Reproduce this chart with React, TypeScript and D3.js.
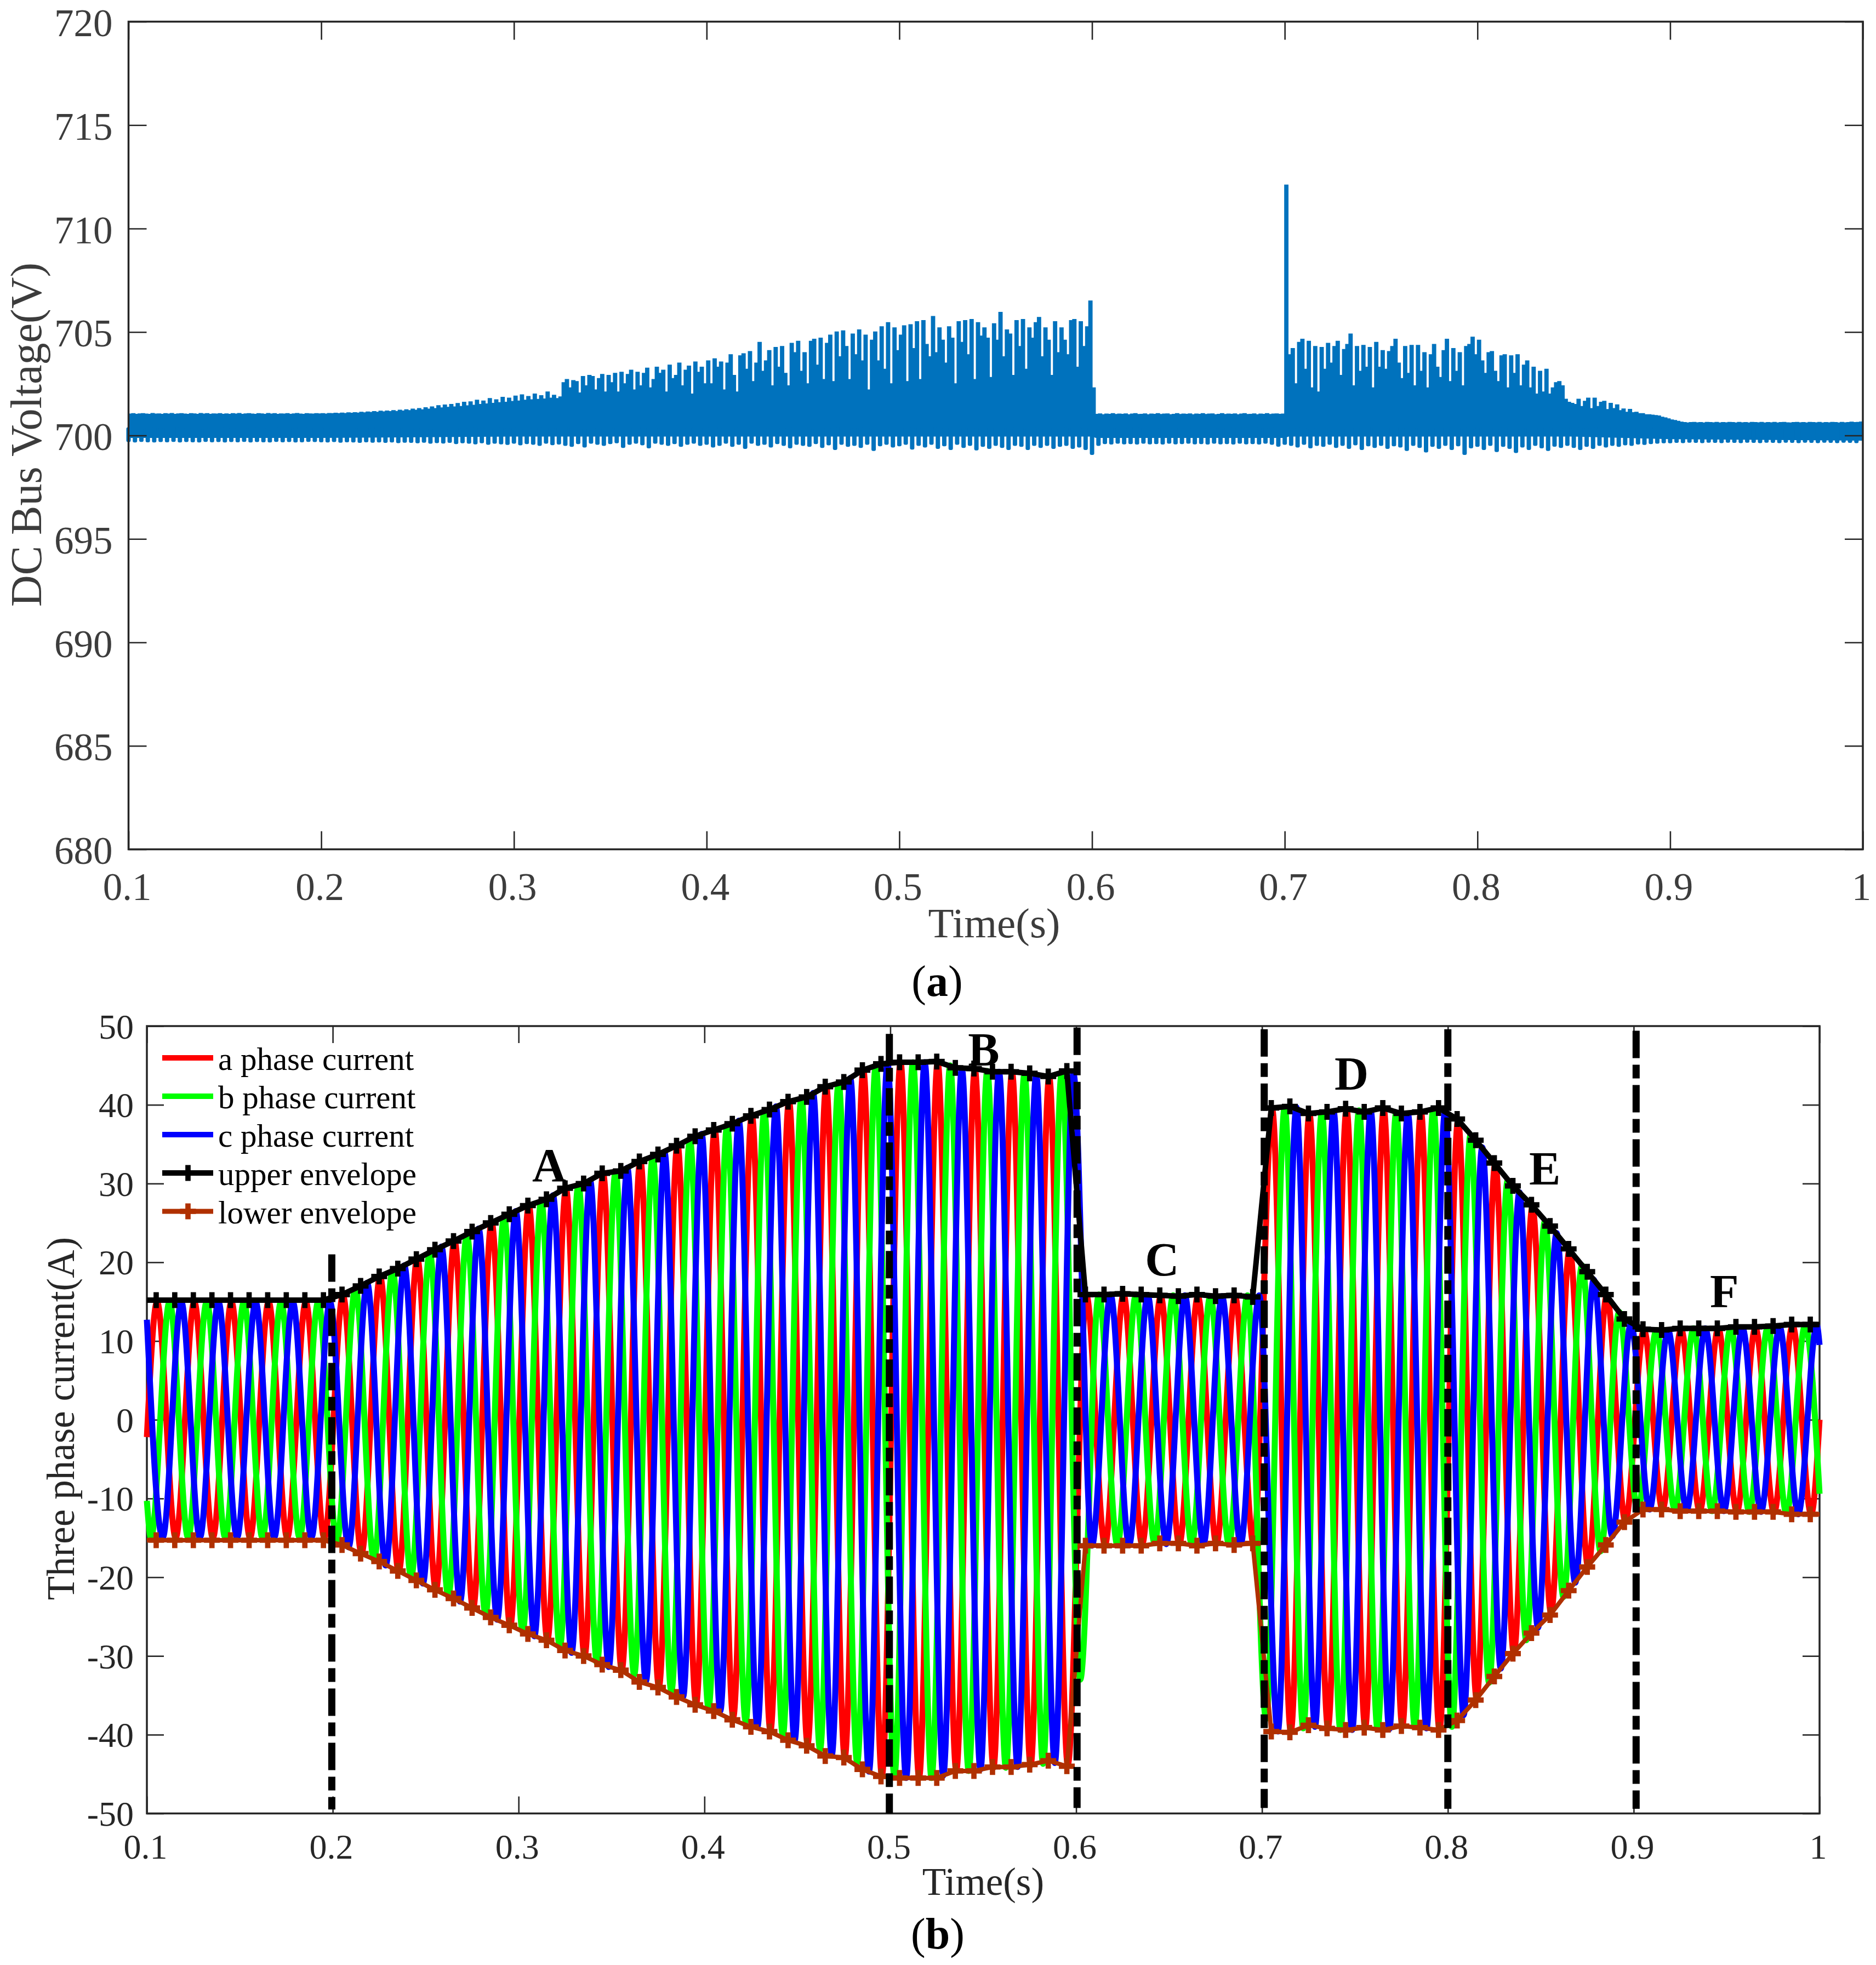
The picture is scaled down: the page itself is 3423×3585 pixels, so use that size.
import React, { useEffect, useRef } from 'react';
import * as d3 from 'd3';

const xTickValues = [0.1, 0.2, 0.3, 0.4, 0.5, 0.6, 0.7, 0.8, 0.9, 1];
const xTickLabels = ['0.1', '0.2', '0.3', '0.4', '0.5', '0.6', '0.7', '0.8', '0.9', '1'];
const voltageTicks = [680, 685, 690, 695, 700, 705, 710, 715, 720];
const currentTicks = [-50, -40, -30, -20, -10, 0, 10, 20, 30, 40, 50];

// top of the DC bus trace, two readings per 300 Hz ripple, one row per 0.05 s
const voltageTop = [
  701.03,701.05,701.02,701.04,701.05,701.03,701.02,701.06,701.03,701.04,701.02,701.05,701.03,701.06,701.02,701.04,701.05,701.03,701.02,701.05,701.04,701.02,701.06,701.03,701.05,701.02,701.04,701.03,701.05,701.02,
  701.04,701.02,701.05,701.03,701.06,701.02,701.04,701.05,701.03,701.02,701.05,701.04,701.02,701.06,701.03,701.05,701.02,701.04,701.03,701.05,701.02,701.04,701.06,701.03,701.02,701.05,701.04,701.03,701.05,701.04,
  701.05,701.03,701.06,701.05,701.07,701.05,701.08,701.06,701.09,701.07,701.1,701.08,701.12,701.09,701.13,701.11,701.15,701.12,701.17,701.14,701.18,701.15,701.2,701.16,701.22,701.18,701.24,701.2,701.27,701.22,
  701.3,701.24,701.34,701.27,701.38,701.3,701.44,701.33,701.47,701.36,701.5,701.38,701.54,701.4,701.6,701.43,701.62,701.46,701.7,701.5,701.66,701.52,701.78,701.55,701.72,701.58,701.84,701.6,701.8,701.64,
  701.9,701.66,701.96,701.7,701.88,701.72,702.0,701.74,701.92,701.76,702.1,701.8,701.94,701.78,701.86,702.55,702.7,702.3,702.65,702.6,702.05,702.85,702.4,702.9,702.85,702.2,702.75,702.95,702.1,702.9,
  702.55,703.0,702.1,703.05,702.5,702.95,703.15,702.2,703.05,702.4,703.0,703.25,702.3,702.7,703.3,703.0,703.15,702.1,703.4,702.75,702.9,703.5,702.4,703.15,703.35,702.0,703.55,703.05,703.3,702.5,
  703.6,702.5,703.7,703.3,703.55,702.2,703.5,703.9,702.9,702.1,703.85,703.95,703.2,704.05,702.6,703.5,704.5,703.1,703.6,704.1,702.4,704.25,703.3,704.3,703.0,702.4,704.45,704.0,704.55,703.1,
  704.0,702.5,704.55,704.65,703.4,704.7,702.7,704.45,704.85,702.6,705.0,703.8,705.05,704.3,702.7,704.9,703.9,705.1,703.6,704.85,702.2,704.6,705.0,703.6,705.25,703.2,705.45,702.5,705.2,704.1,
  704.85,705.3,702.6,705.35,704.2,705.5,702.7,705.55,704.4,703.8,705.75,704.0,705.2,704.6,703.5,705.25,704.7,702.5,705.5,704.5,705.55,703.9,705.6,702.7,705.45,704.8,705.2,704.7,702.8,705.4,
  704.6,705.95,703.8,705.1,704.9,702.9,705.55,704.3,705.6,703.2,705.2,704.7,705.45,705.7,703.8,705.2,704.6,702.9,705.5,704.0,705.2,704.6,703.9,705.55,705.6,703.3,705.5,704.3,705.25,706.5,
  702.3,701.02,701.04,701.0,701.03,701.02,701.05,701.01,701.03,701.02,701.04,701.0,701.03,701.05,701.01,701.02,701.04,701.0,701.03,701.02,701.05,701.01,701.03,701.04,701.0,701.02,701.05,701.01,701.03,701.02,
  701.04,701.0,701.03,701.02,701.05,701.01,701.03,701.04,701.0,701.02,701.05,701.01,701.03,701.02,701.04,701.0,701.03,701.05,701.01,701.02,701.04,701.0,701.03,701.02,701.05,701.01,701.03,701.04,701.02,701.03,
  712.1,703.9,704.2,702.5,704.5,704.65,703.2,704.55,702.3,704.3,702.1,704.25,703.2,704.45,703.5,704.3,704.55,702.9,704.15,704.4,704.9,702.4,704.3,703.1,704.35,703.3,704.25,702.3,704.5,703.3,
  704.1,703.2,704.05,704.3,704.65,703.5,702.75,704.3,703.0,704.35,702.4,704.35,703.1,704.0,702.3,703.9,704.4,703.3,702.8,704.1,704.65,702.6,704.2,703.1,704.0,702.4,704.3,704.4,704.75,703.9,
  704.6,703.6,703.0,704.0,704.05,703.1,702.6,703.85,703.9,702.3,703.85,703.0,703.9,702.4,703.4,703.6,702.3,703.3,702.0,703.1,702.1,703.2,702.0,702.3,702.55,702.6,702.4,701.75,701.6,701.55,
  701.5,701.75,701.4,701.65,701.8,701.3,701.8,701.4,701.6,701.65,701.25,701.55,701.3,701.48,701.2,701.28,701.12,701.26,701.1,701.12,701.05,701.05,701.0,701.0,700.98,700.96,700.94,700.88,700.85,700.8,
  700.75,700.72,700.68,700.64,700.62,700.6,700.62,700.63,700.61,700.62,700.6,700.63,700.62,700.61,700.63,700.6,700.62,700.61,700.63,700.62,700.6,700.63,700.61,700.62,700.6,700.63,700.62,700.61,700.63,700.6,
  700.62,700.61,700.63,700.6,700.62,700.63,700.61,700.6,700.62,700.63,700.61,700.62,700.6,700.63,700.62,700.61,700.63,700.6,700.62,700.61,700.63,700.62,700.6,700.63,700.61,700.62,700.64,700.62,700.63,700.65,
];

// bottom of each 300 Hz notch, 15 per 0.05 s
const voltageTrough = [
  699.68,699.66,699.69,699.67,699.66,699.68,699.67,699.69,699.66,699.68,699.67,699.66,699.69,699.67,699.68,
  699.66,699.68,699.67,699.69,699.66,699.68,699.67,699.66,699.69,699.67,699.68,699.66,699.67,699.69,699.68,
  699.67,699.66,699.68,699.65,699.67,699.66,699.64,699.67,699.65,699.66,699.64,699.66,699.63,699.65,699.64,
  699.62,699.65,699.6,699.63,699.61,699.64,699.58,699.62,699.6,699.57,699.62,699.55,699.6,699.57,699.54,
  699.6,699.52,699.58,699.55,699.5,699.6,699.53,699.56,699.5,699.45,699.58,699.42,699.6,699.55,699.5,
  699.58,699.62,699.4,699.55,699.6,699.52,699.38,699.6,699.55,699.5,699.58,699.45,699.55,699.6,699.5,
  699.55,699.42,699.5,699.6,699.45,699.55,699.35,699.6,699.5,699.55,699.42,699.58,699.5,699.38,699.55,
  699.5,699.45,699.58,699.4,699.52,699.3,699.55,699.45,699.5,699.4,699.55,699.25,699.48,699.55,699.42,
  699.48,699.55,699.32,699.5,699.42,699.55,699.35,699.48,699.3,699.55,699.4,699.5,699.28,699.45,699.35,
  699.5,699.4,699.3,699.5,699.45,699.3,699.5,699.4,699.5,699.35,699.45,699.5,699.35,699.42,699.3,
  699.06,699.5,699.58,699.56,699.6,699.57,699.58,699.56,699.6,699.57,699.58,699.56,699.6,699.57,699.58,
  699.6,699.57,699.58,699.56,699.6,699.57,699.58,699.56,699.6,699.57,699.58,699.56,699.6,699.55,699.46,
  699.55,699.5,699.42,699.55,699.38,699.5,699.45,699.55,699.4,699.5,699.35,699.52,699.3,699.48,699.4,
  699.5,699.35,699.48,699.42,699.25,699.5,699.4,699.18,699.45,699.35,699.5,699.3,699.48,699.06,699.38,
  699.45,699.3,699.5,699.2,699.45,699.35,699.15,699.42,699.3,699.5,699.38,699.25,699.46,699.4,699.5,
  699.4,699.3,699.45,699.35,699.5,699.42,699.5,699.45,699.52,699.5,699.56,699.54,699.58,699.6,699.62,
  699.62,699.64,699.63,699.65,699.64,699.63,699.65,699.64,699.63,699.65,699.64,699.63,699.65,699.64,699.63,
  699.65,699.64,699.63,699.65,699.64,699.63,699.65,699.64,699.63,699.65,699.64,699.63,699.65,699.64,699.63,
];

// lower edge of the solid band between the notches
const floorTimes = [0.1, 0.2, 0.3, 0.6, 0.602, 0.7, 0.702, 0.85, 0.9, 1];
const floorValues = [699.88, 699.88, 699.95, 699.95, 699.88, 699.88, 699.95, 699.95, 699.82, 699.75];

// phase currents: value at each successive peak/trough, 0.01 s apart
const firstPeakA = 0.1055;
const firstPeakB = 0.1022;
const firstPeakC = 0.1085;
const startA = -2.2, startB = -10.3, startC = 12.7;
const endA = 0, endB = -9.4, endC = 9.5;

const phaseA = [
  15,-15,15,-15,15,-15,15,-15,15,-15,
  15.8,-17,18.2,-19.3,20.5,-21.6,22.8,-24,25.1,-26.2,
  27.2,-28,29.3,-30,31.2,-31.8,33,-33.9,35,-36.1,
  36.9,-37.8,38.8,-39.5,40.5,-41.2,42.4,-42.9,44.4,-45.2,
  45.4,-45.4,45.4,-44.6,44.5,-44.2,44.1,-43.9,43.5,-43.8,
  15.8,-15.9,15.9,-15.8,15.7,-15.8,15.7,-15.8,15.7,-15.8,
  39.4,-39.6,38.9,-39.1,39.4,-39.1,39.4,-38.9,39.1,-39.4,
  38,-35.4,32.5,-29.6,27,-24.5,21.6,-18.7,15.8,-12.9,
  11.4,-11.4,11.5,-11.6,11.6,-11.7,11.7,-11.8,12,-12,
];
const phaseB = [
  -15,15,-15,15,-15,15,-15,15,-15,15,
  -15.4,16.7,-17.8,18.9,-20,21.2,-22.4,23.5,-24.7,25.8,
  -26.9,27.8,-28.9,29.8,-30.9,31.5,-32.4,33.4,-34.5,35.6,
  -36.6,37.3,-38.3,39.2,-40.1,40.9,-41.9,42.8,-43.6,45,
  -45.3,45.4,-45.5,45,-44.6,44.3,-44.2,44,-43.7,44,
  -33,15.9,-15.9,15.9,-15.7,15.8,-15.8,15.7,-15.8,15.8,
  -38,39.7,-39.2,39,-39.4,39.3,-39.3,39,-39,39.5,
  -39,36.2,-33.4,30.4,-28,25.2,-22.5,19.6,-16.7,13.7,
  -11.6,11.4,-11.5,11.6,-11.6,11.7,-11.7,11.8,-11.9,12,
];
const phaseC = [
  -15,15,-15,15,-15,15,-15,15,-15,15,
  -16.2,17.4,-18.5,19.6,-20.8,22,-23.1,24.3,-25.4,26.5,
  -27.5,28.5,-29.6,30.4,-31.4,32,-33.2,34,-35.2,36.3,
  -37,38,-39,39.8,-40.8,41.5,-42.6,43.4,-44.7,45.3,
  -45.5,45.4,-45.2,44.6,-44.4,44.2,-44.1,43.8,-43.6,44,
  -16,15.9,-15.9,15.8,-15.8,15.8,-15.8,15.7,-15.8,15.8,
  -39.6,39.7,-39,39.2,-39.4,39.2,-39.3,38.9,-39.2,39.2,
  -37.5,34.6,-31.6,28.9,-26.4,23.7,-20.7,17.8,-14.8,12.2,
  -11.4,11.4,-11.5,11.6,-11.6,11.7,-11.7,11.8,-12,12,
];

// envelopes: one marker every 0.01 s from 0.105
const firstMarker = 0.105;
const upperEnvelope = [
  15.2,15.2,15.2,15.2,15.2,15.2,15.2,15.2,15.2,15.2,
  15.9,17,18.2,19.2,20.4,21.6,22.7,23.9,25,26.1,
  27.2,28,29.4,30,31.3,31.6,32.8,33.7,34.8,36,
  36.8,37.6,38.6,39.4,40.4,41,42.3,42.9,44.4,45.2,
  45.4,45.4,45.5,44.7,44.6,44.2,44.2,44,43.6,44.3,
  15.9,15.9,16,15.9,15.8,15.7,15.9,15.7,15.8,15.6,
  39.6,39.8,38.9,39.1,39.5,39.1,39.6,38.9,39.1,39.6,
  38.2,35.5,32.6,29.7,27.3,24.6,21.7,18.8,15.9,12.8,
  11.5,11.4,11.6,11.6,11.6,11.8,11.8,11.9,12.1,12.1,
];
const lowerEnvelope = [
  -15.3,-15.3,-15.3,-15.3,-15.3,-15.3,-15.3,-15.3,-15.3,-15.3,
  -15.9,-17,-18,-19.2,-20.4,-21.6,-22.7,-23.9,-25.1,-26.1,
  -27.2,-28,-29.3,-30,-31.1,-31.8,-33.3,-34,-35.2,-36.2,
  -37,-38.1,-39,-39.6,-40.7,-41.4,-42.7,-42.9,-44.4,-45.3,
  -45.5,-45.5,-45.5,-44.6,-44.6,-44.1,-44.1,-43.8,-43.3,-44,
  -16,-16,-16,-16,-15.7,-15.7,-16,-15.7,-15.9,-15.7,
  -39.6,-39.7,-38.8,-39.2,-39.4,-39.1,-39.4,-38.9,-39.1,-39.4,
  -38.2,-35.6,-32.6,-29.7,-27.1,-24.8,-21.7,-18.7,-15.9,-13,
  -11.4,-11.4,-11.6,-11.6,-11.6,-11.7,-11.7,-11.7,-12,-12,
];
const upperEnds = [15.2, 12.1];
const lowerEnds = [-15.3, -12];

// stage boundaries and the labels above the envelope
const boundaryTimes = [0.1995, 0.4995, 0.6005, 0.7012, 0.8, 0.9013];
const boundaryTops = [21, 49, 49.8, 49.6, 49.6, 49.4];
const boundaryBottoms = [-49.5, -50, -49.3, -49.3, -49.4, -49.4];
const stageNames = ['A', 'B', 'C', 'D', 'E', 'F'];
const stageTimes = [0.3165, 0.5503, 0.6462, 0.7482, 0.8522, 0.9488];
const stageValues = [30.3, 45, 18.3, 41.9, 29.9, 14.3];

const legendLabels = ['a phase current', 'b phase current', 'c phase current', 'upper envelope', 'lower envelope'];
const legendColors = ['#ff0000', '#00ff00', '#0000ff', '#000000', '#b03000'];

const serif = '"Liberation Serif", "Times New Roman", serif';
const width = 3423;
const height = 3585;

type Scale = d3.ScaleLinear<number, number>;

function drawFrame(
  svg: d3.Selection<SVGSVGElement, unknown, null, undefined>,
  x: Scale,
  y: Scale,
  yTicks: number[],
  o: { fontSize: number; color: string; tickLen: number; xBase: number; yGap: number; yBase: number }
) {
  const [left, right] = x.range();
  const [bottom, top] = y.range();
  const label = (_d: any, i: number) => xTickLabels[i];

  const axes = [
    { a: d3.axisBottom(x).tickValues(xTickValues).tickFormat(label as any), t: `translate(0,${bottom})` },
    { a: d3.axisTop(x).tickValues(xTickValues).tickFormat(() => ''), t: `translate(0,${top})` },
    { a: d3.axisLeft(y).tickValues(yTicks).tickFormat((d: any) => String(d)), t: `translate(${left},0)` },
    { a: d3.axisRight(y).tickValues(yTicks).tickFormat(() => ''), t: `translate(${right},0)` },
  ];
  axes.forEach(({ a, t }, i) => {
    const g = svg.append('g').attr('transform', t).call(a.tickSize(-o.tickLen) as any);
    g.select('.domain').remove();
    g.selectAll('line').attr('stroke', '#262626').attr('stroke-width', 2.6);
    const txt = g.selectAll('text')
      .attr('fill', o.color)
      .style('font-family', serif)
      .style('font-size', `${o.fontSize}px`);
    if (i === 0) txt.attr('dy', null).attr('y', o.xBase).attr('x', -3).attr('text-anchor', 'middle');
    if (i === 2) txt.attr('dy', null).attr('x', -o.yGap).attr('y', o.yBase).attr('text-anchor', 'end');
  });

  svg.append('rect')
    .attr('x', left).attr('y', top)
    .attr('width', right - left).attr('height', bottom - top)
    .attr('fill', 'none').attr('stroke', '#262626').attr('stroke-width', 3.5);
}

function addText(
  svg: d3.Selection<SVGSVGElement, unknown, null, undefined>,
  s: string, px: number, py: number, size: number, fill: string, weight = 'normal'
) {
  return svg.append('text')
    .attr('x', px).attr('y', py)
    .attr('text-anchor', 'middle')
    .attr('fill', fill)
    .style('font-family', serif)
    .style('font-size', `${size}px`)
    .style('font-weight', weight)
    .text(s);
}

const App: React.FC = () => {
  const ref = useRef<SVGSVGElement | null>(null);

  useEffect(() => {
    const svg = d3.select(ref.current as SVGSVGElement);
    svg.selectAll('*').remove();
    drawVoltage(svg);
    drawCurrent(svg);
  }, []);

  const drawVoltage = (svg: any) => {
    const x = d3.scaleLinear().domain([0.1, 1]).range([234.5, 3399]);
    const y = d3.scaleLinear().domain([680, 720]).range([1549.5, 39.5]);
    const blue = '#0072bd';
    const sampleTime = d3.scaleLinear().domain([0, voltageTop.length]).range([0.1, 1]);
    const rippleTime = d3.scaleLinear().domain([0, voltageTrough.length]).range([0.1, 1]);

    const tops = [...voltageTop, voltageTop[voltageTop.length - 1]];
    const upper = d3.area<number>()
      .x((_d, i) => x(sampleTime(i)))
      .y0(y(700.5))
      .y1(d => y(d))
      .curve(d3.curveStepAfter);
    svg.append('path').attr('d', upper(tops))
      .attr('fill', blue)
      .attr('stroke', blue)
      .attr('stroke-width', 2);

    const band = d3.area<number>()
      .x((_d, i) => x(floorTimes[i]))
      .y0(d => y(d))
      .y1(y(700.6));
    svg.append('path').attr('d', band(floorValues)).attr('fill', blue);

    svg.append('g').selectAll('rect')
      .data(voltageTrough)
      .enter().append('rect')
      .attr('x', (_d: number, i: number) => x(rippleTime(i)) - 4)
      .attr('width', 8)
      .attr('y', y(700.4))
      .attr('height', (d: number) => y(d) - y(700.4))
      .attr('rx', 3)
      .attr('fill', blue);

    drawFrame(svg, x, y, voltageTicks, {
      fontSize: 71, color: '#3c3c3c', tickLen: 33, xBase: 92, yGap: 29, yBase: 26,
    });

    addText(svg, 'Time(s)', 1814, 1710, 77, '#3c3c3c');
    addText(svg, 'DC Bus Voltage(V)', 0, 0, 80, '#3c3c3c').attr('transform', 'translate(75,793) rotate(-90)');
    const cap = addText(svg, '(', 1710, 1817, 80, '#000').text(null);
    cap.append('tspan').text('(');
    cap.append('tspan').style('font-weight', 'bold').text('a');
    cap.append('tspan').text(')');
  };

  const drawCurrent = (svg: any) => {
    const x = d3.scaleLinear().domain([0.1, 1]).range([268, 3320]);
    const y = d3.scaleLinear().domain([-50, 50]).range([3308.5, 1872]);

    drawFrame(svg, x, y, currentTicks, {
      fontSize: 64, color: '#262626', tickLen: 31, xBase: 82, yGap: 24, yBase: 22,
    });

    const wave = d3.line<[number, number]>()
      .x(d => x(d[0]))
      .y(d => y(d[1]))
      .curve(d3.curveMonotoneX);

    const phases = [
      { values: phaseA, first: firstPeakA, start: startA, end: endA, color: legendColors[0] },
      { values: phaseB, first: firstPeakB, start: startB, end: endB, color: legendColors[1] },
      { values: phaseC, first: firstPeakC, start: startC, end: endC, color: legendColors[2] },
    ];
    phases.forEach(p => {
      const pts: [number, number][] = [
        [0.1, p.start],
        ...p.values.map((v, i): [number, number] => [p.first + i * 0.01, v]),
        [1, p.end],
      ];
      svg.append('path')
        .attr('d', wave(pts))
        .attr('fill', 'none')
        .attr('stroke', p.color)
        .attr('stroke-width', 11)
        .attr('stroke-linejoin', 'round');
    });

    const straight = d3.line<[number, number]>().x(d => x(d[0])).y(d => y(d[1]));
    const cross = d3.symbol().type(d3.symbolCross).size(467);
    const envelopes = [
      { values: upperEnvelope, ends: upperEnds, color: legendColors[3], w: 10 },
      { values: lowerEnvelope, ends: lowerEnds, color: legendColors[4], w: 8 },
    ];
    envelopes.forEach(e => {
      const marks = e.values.map((v, i): [number, number] => [firstMarker + i * 0.01, v]);
      svg.append('path')
        .attr('d', straight([[0.1, e.ends[0]], ...marks, [1, e.ends[1]]]))
        .attr('fill', 'none')
        .attr('stroke', e.color)
        .attr('stroke-width', e.w);
      svg.append('g').selectAll('path')
        .data(marks)
        .enter().append('path')
        .attr('d', cross() as string)
        .attr('transform', (d: [number, number]) => `translate(${x(d[0])},${y(d[1])})`)
        .attr('fill', e.color);
    });

    svg.append('g').selectAll('line')
      .data(boundaryTimes)
      .enter().append('line')
      .attr('x1', (d: number) => x(d))
      .attr('x2', (d: number) => x(d))
      .attr('y1', (_d: number, i: number) => y(boundaryTops[i]))
      .attr('y2', (_d: number, i: number) => y(boundaryBottoms[i]))
      .attr('stroke', '#000')
      .attr('stroke-width', 13)
      .attr('stroke-dasharray', '50 12 25 12');

    stageNames.forEach((n, i) => {
      addText(svg, n, x(stageTimes[i]), y(stageValues[i]), 86, '#000', 'bold');
    });

    // legend
    legendLabels.forEach((s, i) => {
      const ly = 1930 + i * 70;
      svg.append('line')
        .attr('x1', 296).attr('x2', 389)
        .attr('y1', ly).attr('y2', ly)
        .attr('stroke', legendColors[i])
        .attr('stroke-width', i === 4 ? 9 : 10);
      if (i > 2) {
        svg.append('path')
          .attr('d', cross() as string)
          .attr('transform', `translate(343,${ly})`)
          .attr('fill', legendColors[i]);
      }
      svg.append('text')
        .attr('x', 398).attr('y', ly + 22)
        .attr('fill', '#000')
        .style('font-family', serif)
        .style('font-size', '59px')
        .text(s);
    });

    addText(svg, 'Time(s)', 1794, 3457, 71, '#262626');
    addText(svg, 'Three phase current(A)', 0, 0, 71, '#262626').attr('transform', 'translate(135,2588) rotate(-90)');
    const cap = addText(svg, '(', 1711, 3555, 80, '#000').text(null);
    cap.append('tspan').text('(');
    cap.append('tspan').style('font-weight', 'bold').text('b');
    cap.append('tspan').text(')');
  };

  return (
    <svg
      ref={ref}
      width={width}
      height={height}
      viewBox={`0 0 ${width} ${height}`}
      style={{ position: 'absolute', left: 0, top: 0, background: '#fff' }}
    />
  );
};

export default App;
